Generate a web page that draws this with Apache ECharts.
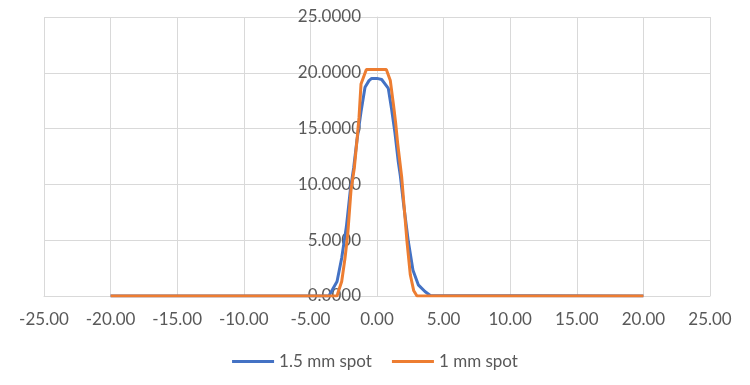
<!DOCTYPE html>
<html>
<head>
<meta charset="utf-8">
<script src="https://cdn.jsdelivr.net/npm/echarts@6/dist/echarts.min.js"></script>
<style>
  html, body { margin: 0; padding: 0; background: #fff; }
  #chart { width: 750px; height: 385px; }
</style>
</head>
<body>
<div id="chart"></div>
<script>
// 1.5 mm spot profile (x, y)
const spot15X = [-20, -3.6, -3.5, -3.0, -2.65, -2.3, -2.0, -1.75, -1.5, -1.2, -0.9, -0.6, -0.4, 0, 0.35, 0.6, 0.85, 1.1, 1.35, 1.6, 1.75, 2.0, 2.35, 2.7, 3.1, 3.6, 4.0, 20]
const spot15Y = [0, 0, 0.25, 1.3, 3.4, 6.2, 9.5, 11.5, 14.0, 16.5, 18.7, 19.3, 19.5, 19.5, 19.4, 19.0, 18.6, 16.7, 14.6, 12.0, 10.8, 8.2, 4.9, 2.3, 1.0, 0.4, 0.05, 0]

// 1 mm spot profile (x, y)
const spot1X = [-20, -3.0, -2.9, -2.65, -2.4, -2.2, -1.95, -1.7, -1.5, -1.35, -1.2, -0.8, 0.7, 1.0, 1.25, 1.4, 1.55, 1.85, 2.25, 2.5, 2.75, 3.0, 20]
const spot1Y = [0, 0, 0.4, 1.3, 3.4, 5.5, 9.5, 11.5, 14.0, 16.0, 19.0, 20.3, 20.3, 19.3, 17.0, 15.5, 13.7, 10.7, 4.9, 1.9, 0.5, 0, 0]

const seriesNames = ['1.5 mm spot', '1 mm spot']

const pair = (xs, ys) => xs.map((x, i) => [x, ys[i]])

const chart = echarts.init(document.getElementById('chart'))
const labelColor = '#595959'
const gridColor = '#d9d9d9'
const font = 'Lato, "Open Sans", sans-serif'

const gridLeft = 44
const gridRight = 40
// y axis sits at x = 0, in the middle of the -25..25 range
const yAxisOffset = -(750 - gridLeft - gridRight) / 2

const option = {
  animation: false,
  color: ['#4472C4', '#ED7D31'],
  grid: { left: gridLeft, right: gridRight, top: 17, bottom: 89, outerBoundsMode: 'none' },
  legend: {
    top: 348,
    left: 'center',
    itemWidth: 42,
    itemHeight: 3,
    itemGap: 20,
    icon: 'rect',
    textStyle: { color: labelColor, fontSize: 17, fontFamily: font },
    data: seriesNames
  },
  xAxis: {
    type: 'value',
    min: -25,
    max: 25,
    interval: 5,
    axisLine: { show: true, onZero: false, lineStyle: { color: gridColor } },
    axisTick: { show: false },
    splitLine: { show: true, lineStyle: { color: gridColor } },
    axisLabel: {
      color: labelColor,
      fontSize: 17,
      fontFamily: font,
      margin: 15,
      formatter: v => v.toFixed(2)
    }
  },
  yAxis: {
    type: 'value',
    min: 0,
    max: 25,
    interval: 5,
    offset: yAxisOffset,
    axisLine: { show: true, onZero: false, lineStyle: { color: gridColor } },
    axisTick: { show: false },
    splitLine: { show: true, lineStyle: { color: gridColor } },
    axisLabel: {
      color: labelColor,
      fontSize: 17,
      fontFamily: font,
      margin: 16,
      formatter: v => v.toFixed(4)
    }
  },
  series: [
    {
      name: seriesNames[0],
      type: 'line',
      showSymbol: false,
      lineStyle: { width: 3 },
      data: pair(spot15X, spot15Y)
    },
    {
      name: seriesNames[1],
      type: 'line',
      showSymbol: false,
      lineStyle: { width: 3 },
      data: pair(spot1X, spot1Y)
    }
  ]
}

chart.setOption(option)
window.addEventListener('resize', function () {
  chart.resize()
})
</script>
</body>
</html>
